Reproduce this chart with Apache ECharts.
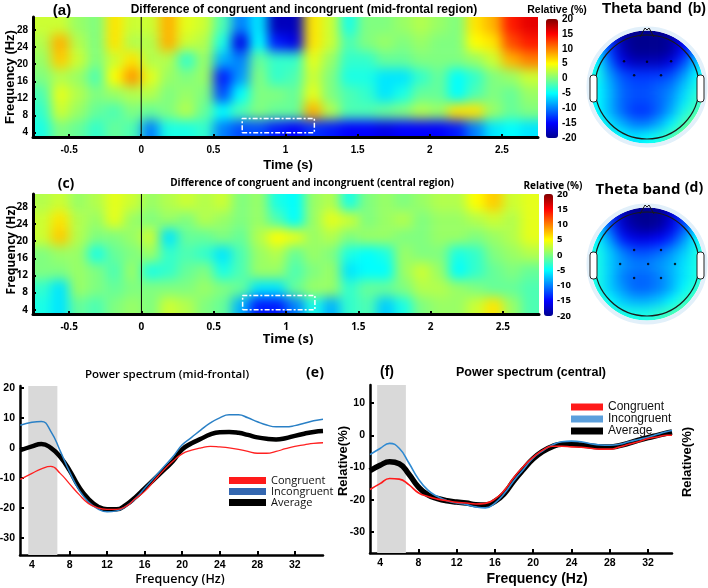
<!DOCTYPE html>
<html>
<head>
<meta charset="utf-8">
<title>Theta power: congruent vs incongruent</title>
<script src="https://cdn.jsdelivr.net/npm/echarts@6/dist/echarts.min.js"></script>
<style>
html, body { margin: 0; padding: 0; background: #fff; }
#main { width: 708px; height: 588px; }
</style>
</head>
<body>
<div id="main"></div>
<script type="text/javascript">
var myChart = echarts.init(document.getElementById('main'));

// ---- time-frequency maps (relative power difference, %) ----
var timeBins = [-0.6875, -0.5625, -0.4375, -0.3125, -0.1875, -0.0625, 0.0625, 0.1875, 0.3125, 0.4375,
    0.5625, 0.6875, 0.8125, 0.9375, 1.0625, 1.1875, 1.3125, 1.4375, 1.5625, 1.6875,
    1.8125, 1.9375, 2.0625, 2.1875, 2.3125, 2.4375, 2.5625, 2.6875];
var freqBins = [29, 25, 21, 17, 13, 9, 5];
var timeTicks = [-0.5, 0, 0.5, 1, 1.5, 2, 2.5];
var freqTicks = [4, 8, 12, 16, 20, 24, 28];

// mid-frontal region, rows from 29 Hz down to 5 Hz
var midFrontal = [
    [3, 3, 1, 0, 6, 3, 3, 8, 4, 3, -2, -10, -6, -18, -18, 6, 3, -4, 0, 0, 1, 2, 1, 0, 6, 8, 14, 16],
    [2, 8, 2, 0, 6, 2, 2, 8, 3, 2, -4, -16, -5, -14, -16, 6, 3, -2, 0, 1, 0, 1, 0, 0, 5, 6, 12, 14],
    [1, 7, 3, 0, 3, 6, 2, 2, -3, 1, -8, -10, -1, -3, -3, 4, 1, -3, -3, -1, -1, 0, 0, 0, 1, 3, 8, 10],
    [0, 2, 1, -2, 5, 9, 4, 1, 0, 1, -14, -9, 0, -3, -2, 3, 0, -4, -4, -6, -6, -3, -1, -5, -3, 0, 1, 3],
    [-2, 4, 2, 0, 1, 2, 2, 0, 1, 0, -12, -5, 0, 0, -1, 4, 0, -2, -3, -6, -4, -1, -1, -5, -2, 0, -1, 1],
    [-3, 3, 1, -1, -2, 0, -1, 0, 2, -1, -5, -2, 0, -1, -1, 8, 2, -2, -2, -1, 0, 2, 1, 6, 6, 1, -1, 0],
    [-4, 0, -1, -3, -1, -2, -10, -4, -4, -3, -10, -12, -12, -14, -15, -13, -14, -15, -15, -16, -15, -15, -15, -14, -10, -6, -5, -6]
];
// central region
var central = [
    [2, 3, 1, 2, 4, 3, 1, 2, 3, 2, 3, 0, 1, -4, -5, 1, 2, -4, 0, 1, 0, 1, 2, 2, 5, 7, 3, 4],
    [3, 6, 2, 1, 4, 1, 0, 1, 0, 2, 1, 0, 1, -2, -5, 1, 4, 3, 0, 1, 2, 0, 1, 1, 2, 3, 2, 4],
    [3, 7, 2, 0, 0, 1, 3, -6, -1, -1, 0, -1, 2, 5, 4, 1, 2, 0, 1, 1, 0, 0, 1, 1, 0, 1, 2, 4],
    [0, 1, 1, -4, -1, 0, 1, -3, -2, -3, -6, -2, 1, 2, -1, 1, 0, -4, -5, -4, 1, 0, 0, -4, -3, 0, 1, 2],
    [0, 0, 1, 0, -2, 1, -4, -3, -1, 0, -4, -2, 1, 1, -2, 0, 1, -6, -5, -5, 1, 3, 1, -5, -3, -1, 0, -1],
    [-3, -6, 1, 0, -1, 0, 0, 0, 0, 1, 0, -1, -6, -6, -1, 1, 1, -3, -1, -1, 0, 2, 2, 1, 0, -1, -1, -2],
    [-4, -6, -1, -2, 0, 1, 0, 3, 2, 0, -1, -8, -14, -14, -10, -4, -8, -3, -2, -7, -4, 0, 1, 1, 3, 6, 1, -2]
];
// theta-window outline (s, Hz)
var boxTime = [0.7, 1.2];
var boxFreq = [4, 7.3];

// ---- theta-band scalp maps, 9x9 cells, head coords -1..1 ----
var topoPos = [-0.889, -0.667, -0.444, -0.222, 0, 0.222, 0.444, 0.667, 0.889];
var topoRows = [0.889, 0.667, 0.444, 0.222, 0, -0.222, -0.444, -0.667, -0.889];
var topoFrontal = [
    [-7, -13, -19, -20, -20, -20, -19, -15, -9],
    [-6, -13, -18, -20, -20, -20, -19, -15, -9],
    [-5, -11, -16, -18, -18, -18, -16, -12, -7],
    [-4, -9, -12, -13, -13, -13, -12, -9, -5],
    [-5, -8, -11, -12, -12, -11, -10, -7, -4],
    [-5, -8, -11, -12, -12, -11, -9, -6, -3],
    [-5, -8, -11, -13, -13, -11, -8, -4, -2],
    [-4, -6, -8, -10, -10, -8, -5, -2, 0],
    [-3, -4, -5, -6, -5, -4, -2, 0, 1]
];
var topoCentral = [
    [-7, -13, -18, -20, -20, -20, -17, -13, -8],
    [-6, -12, -17, -19, -20, -19, -16, -12, -7],
    [-5, -9, -14, -16, -16, -15, -13, -9, -5],
    [-4, -7, -10, -12, -12, -11, -9, -7, -4],
    [-4, -7, -9, -10, -10, -9, -8, -6, -4],
    [-4, -7, -10, -11, -11, -10, -8, -6, -4],
    [-4, -7, -9, -11, -11, -10, -8, -5, -3],
    [-3, -5, -7, -8, -8, -7, -5, -3, -2],
    [-2, -3, -4, -4, -4, -3, -2, -1, 0]
];
var electrodesFrontal = [[-0.41, 0.46], [0, 0.45], [0.43, 0.46], [-0.23, 0.21], [0.25, 0.21]];
var electrodesCentral = [[-0.23, 0.25], [0.25, 0.25], [-0.48, 0], [0.02, 0], [0.5, 0], [-0.23, -0.25], [0.25, -0.25]];

// ---- power spectra (relative %, by frequency) ----
var eFreq = [2.75, 4, 5, 6, 7, 8, 9, 10, 11, 12, 13, 14, 15, 16, 17, 18, 19, 20, 21, 22, 23, 24, 25, 26, 27, 28, 29, 30, 31, 32, 33, 34, 35];
var eCongruent = [-10.5, -8.5, -7, -6.2, -8.5, -12, -15.5, -18.5, -20, -20.5, -20.5, -19.5, -17, -14.5, -11, -7.5, -4.5, -2, -0.8, 0, 0.5, 0.3, 0, -0.5, -1.2, -1.8, -1.8, -1.2, -0.3, 0.5, 1, 1.5, 1.7];
var eIncongruent = [7.5, 8.5, 8.8, 5.5, -1, -8, -14, -18, -20.3, -21.3, -21, -19.5, -17, -13.5, -10, -6.5, -3, 1, 3.5, 6, 8.3, 10, 11, 11, 10, 8.7, 7.6, 7, 7, 7.4, 8.2, 9, 9.5];
var eAverage = [-0.8, 0.5, 1.3, 0, -3, -7.5, -13, -17, -19.5, -20.5, -20.5, -19, -16.5, -13.5, -10.5, -7.5, -4.5, -0.5, 1.5, 3, 4.5, 5.2, 5.3, 5, 4.3, 3.5, 3, 2.8, 3.2, 4, 4.7, 5.3, 5.6];
var fFreq = [2.95, 4, 5, 6, 7, 8, 9, 10, 11, 12, 13, 14, 15, 16, 17, 18, 19, 20, 21, 22, 23, 24, 25, 26, 27, 28, 29, 30, 31, 32, 33, 34, 34.5];
var fCongruent = [-16.8, -15, -13.4, -13.6, -15.3, -17.8, -19, -19.8, -20.3, -20.8, -21, -21.3, -21.1, -19.8, -17, -13, -9.6, -6.8, -4.6, -3.4, -3.4, -3.6, -3.7, -4, -4.3, -4.3, -3.6, -2.8, -2, -1, -0.5, 0, 0];
var fIncongruent = [-6, -4.1, -2.5, -4, -8.5, -13.5, -17, -19, -20.3, -21, -21.5, -22.2, -22.5, -21, -18, -14, -10.5, -7, -4.8, -3, -2, -1.8, -2, -2.6, -3, -3.1, -2.8, -2, -1.3, -0.6, 0.3, 1.2, 1.5];
var fAverage = [-11, -9.3, -8.2, -8.8, -12, -16, -18.5, -19.6, -20.3, -20.7, -21, -21.5, -21.6, -20.5, -18, -14, -10.5, -7.3, -5, -3.5, -2.8, -2.8, -3, -3.3, -3.6, -3.6, -3.2, -2.4, -1.5, -0.7, 0, 0.7, 1];
var thetaShadeE = [3.6, 6.7];
var thetaShadeF = [3.7, 6.7];
var specYTicks = [-30, -20, -10, 0, 10, 20];
var specXTicks = [4, 8, 12, 16, 20, 24, 28, 32];

var jet = ['#00008f', '#0000ff', '#0080ff', '#00ffff', '#80ff80', '#ffff00', '#ff8000', '#ff0000', '#800000'];
var ARIAL = '"Liberation Sans", Arial, sans-serif';
var SEGOE = '"Open Sans", "Noto Sans", sans-serif';

function toCells(rows, xs, ys) {
    var out = [];
    rows.forEach(function (r, j) {
        r.forEach(function (v, i) { out.push([xs[i], ys[j], v]); });
    });
    return out;
}
function zip(xs, ys) {
    return xs.map(function (x, i) { return [x, ys[i]]; });
}
// one coloured cell; cells on the plot border are stretched outwards so the
// softened layer keeps full colour up to the (clipped) plot edge
function cellItem(dt, df) {
    return function (params, api) {
        var cs = params.coordSys;
        var p0 = api.coord([api.value(0) - dt / 2, api.value(1) + df / 2]);
        var p1 = api.coord([api.value(0) + dt / 2, api.value(1) - df / 2]);
        var x0 = p0[0], y0 = p0[1], x1 = p1[0] + 0.6, y1 = p1[1] + 0.6;
        if (x0 <= cs.x + 1) x0 -= 14;
        if (y0 <= cs.y + 1) y0 -= 14;
        if (x1 >= cs.x + cs.width - 1) x1 += 14;
        if (y1 >= cs.y + cs.height - 1) y1 += 14;
        return {
            type: 'rect',
            shape: { x: x0, y: y0, width: x1 - x0, height: y1 - y0 },
            style: { fill: api.visual('color') }
        };
    };
}
function bandItem(params, api) {
    var cs = params.coordSys;
    var a = api.coord([api.value(0), 0]);
    var b = api.coord([api.value(1), 0]);
    return {
        type: 'rect',
        shape: { x: a[0], y: cs.y, width: b[0] - a[0], height: cs.height },
        style: { fill: '#d9d9d9' }
    };
}
function boxPath(t, f) {
    return [[t[0], f[0]], [t[1], f[0]], [t[1], f[1]], [t[0], f[1]], [t[0], f[0]]];
}

// axis helpers
function tfX(grid, font) {
    return {
        gridIndex: grid, type: 'value', min: -0.75, max: 2.75,
        axisLine: { onZero: false, lineStyle: { color: '#000', width: 3 } },
        axisTick: { inside: true, length: 3, lineStyle: { width: 2, color: '#000' }, customValues: timeTicks },
        axisLabel: { customValues: timeTicks, color: '#000', fontFamily: font, fontWeight: 'bold', fontSize: 10, margin: 8 },
        splitLine: { show: false }
    };
}
function tfY(grid, font) {
    return {
        gridIndex: grid, type: 'value', min: 3, max: 31,
        axisLine: { onZero: false, lineStyle: { color: '#000', width: 3 } },
        axisTick: { inside: true, length: 3, lineStyle: { width: 2, color: '#000' }, customValues: freqTicks },
        axisLabel: { customValues: freqTicks, color: '#000', fontFamily: font, fontWeight: 'bold', fontSize: 10, margin: 5 },
        splitLine: { show: false }
    };
}
function hidden(grid, lo, hi) {
    return { gridIndex: grid, type: 'value', min: lo, max: hi, show: false, splitLine: { show: false } };
}
function cbarY(grid, font, size) {
    return {
        gridIndex: grid, type: 'value', min: -20, max: 20, interval: 5, position: 'right',
        axisLine: { show: false }, axisTick: { show: false }, splitLine: { show: false },
        axisLabel: { color: '#000', fontFamily: font, fontWeight: 'bold', fontSize: size, margin: 4 }
    };
}
function specX(grid, lo, hi) {
    return {
        gridIndex: grid, type: 'value', min: lo, max: hi,
        axisLine: { onZero: false, lineStyle: { color: '#000', width: 2.5 } },
        axisTick: { inside: true, length: 4, lineStyle: { width: 2, color: '#000' }, customValues: specXTicks },
        axisLabel: { customValues: specXTicks, color: '#000', fontFamily: ARIAL, fontWeight: 'bold', fontSize: 10.5, margin: 5 },
        splitLine: { show: false }
    };
}
function specY(grid, lo, hi) {
    return {
        gridIndex: grid, type: 'value', min: lo, max: hi,
        axisLine: { onZero: false, lineStyle: { color: '#000', width: 2.5 } },
        axisTick: { inside: true, length: 4, lineStyle: { width: 2, color: '#000' }, customValues: specYTicks },
        axisLabel: { customValues: specYTicks, color: '#000', fontFamily: ARIAL, fontWeight: 'bold', fontSize: 10.5, margin: 5 },
        splitLine: { show: false }
    };
}

// free text
function txt(x, y, s, font, rot) {
    var el = {
        type: 'text', x: x, y: y, z: 100, silent: true,
        style: { text: s, x: 0, y: 0, font: font, fill: '#000',
            textAlign: 'center', textVerticalAlign: 'middle', align: 'center', verticalAlign: 'middle' }
    };
    if (rot) el.rotation = rot;
    return el;
}
// head outline around a scalp map
function head(cx, cy) {
    return [
        { type: 'circle', z: 31, silent: true, shape: { cx: cx, cy: cy, r: 58.5 }, style: { fill: 'none', stroke: '#e2f0fa', lineWidth: 4 } },
        { type: 'circle', z: 32, silent: true, shape: { cx: cx, cy: cy, r: 52 }, style: { fill: 'none', stroke: '#1a1a1a', lineWidth: 1.2 } },
        { type: 'rect', z: 32, silent: true, shape: { x: cx - 57, y: cy - 12, width: 7, height: 27, r: 3 }, style: { fill: '#fff', stroke: '#222', lineWidth: 1 } },
        { type: 'rect', z: 32, silent: true, shape: { x: cx + 50, y: cy - 12, width: 7, height: 27, r: 3 }, style: { fill: '#fff', stroke: '#222', lineWidth: 1 } },
        { type: 'polyline', z: 32, silent: true, shape: { points: [[cx - 7, cy - 50], [cx - 2, cy - 59], [cx, cy - 57], [cx + 2, cy - 59], [cx + 7, cy - 50]] }, style: { fill: 'none', stroke: '#1a1a1a', lineWidth: 1 } }
    ];
}

var graphics = []
    .concat(head(647, 87))
    .concat(head(647, 264))
    .concat([
        txt(62, 11, '(a)', 'bold 15px ' + ARIAL),
        txt(304, 10, 'Difference of congruent and incongruent (mid-frontal region)', 'bold 12px ' + ARIAL),
        txt(557, 10, 'Relative (%)', 'bold 10.5px ' + ARIAL),
        txt(642, 9, 'Theta band', 'bold 15px ' + ARIAL),
        txt(697, 9, '(b)', 'bold 14px ' + ARIAL),
        txt(288, 165, 'Time (s)', 'bold 13px ' + ARIAL),
        txt(10, 77, 'Frequency (Hz)', 'bold 13px ' + ARIAL, Math.PI / 2),

        txt(66, 184, '(c)', 'bold 14px ' + SEGOE),
        txt(312, 183, 'Difference of congruent and incongruent (central region)', 'bold 10px ' + SEGOE),
        txt(553, 186, 'Relative (%)', 'bold 10px ' + SEGOE),
        txt(638, 190, 'Theta band', 'bold 15px ' + SEGOE),
        txt(694, 188, '(d)', 'bold 14px ' + SEGOE),
        txt(288, 339, 'Time (s)', 'bold 13px ' + SEGOE),
        txt(12, 250, 'Frequency (Hz)', 'bold 12px ' + SEGOE, Math.PI / 2),

        txt(167, 375, 'Power spectrum (mid-frontal)', '600 11.5px ' + SEGOE),
        txt(315, 373, '(e)', 'bold 14px ' + SEGOE),
        txt(180, 579, 'Frequency (Hz)', '600 12.5px ' + SEGOE),
        txt(343, 461, 'Relative(%)', 'bold 13px ' + ARIAL, Math.PI / 2),

        txt(387, 372, '(f)', 'bold 14px ' + ARIAL),
        txt(531, 373, 'Power spectrum (central)', 'bold 12.5px ' + ARIAL),
        txt(537, 579, 'Frequency (Hz)', 'bold 14px ' + ARIAL),
        txt(687, 462, 'Relative(%)', 'bold 13px ' + ARIAL, Math.PI / 2)
    ]);

var option = {
    animation: false,
    backgroundColor: 'transparent',
    grid: [
        { left: 33, top: 17, width: 505, height: 120, outerBoundsMode: 'none' },   // (a)
        { left: 546, top: 19, width: 12, height: 119, outerBoundsMode: 'none' },   // (a) colour bar
        { left: 591, top: 31, width: 112, height: 112, outerBoundsMode: 'none' },  // (b)
        { left: 33, top: 194, width: 506, height: 120, outerBoundsMode: 'none' },  // (c)
        { left: 544, top: 194, width: 9, height: 122, outerBoundsMode: 'none' },   // (c) colour bar
        { left: 591, top: 208, width: 112, height: 112, outerBoundsMode: 'none' }, // (d)
        { left: 20, top: 386, width: 303, height: 169, outerBoundsMode: 'none' },  // (e)
        { left: 370, top: 385, width: 302, height: 168, outerBoundsMode: 'none' }  // (f)
    ],
    xAxis: [
        tfX(0, ARIAL), hidden(1, 0, 1), hidden(2, -1, 1),
        tfX(3, SEGOE), hidden(4, 0, 1), hidden(5, -1, 1),
        specX(6, 2.72, 35), specX(7, 2.95, 34.5)
    ],
    yAxis: [
        tfY(0, ARIAL), cbarY(1, ARIAL, 10), hidden(2, -1, 1),
        tfY(3, SEGOE), cbarY(4, SEGOE, 9.5), hidden(5, -1, 1),
        specY(6, -35.7, 20.6), specY(7, -36.5, 15.6)
    ],
    visualMap: [{
        type: 'continuous', min: -20, max: 20, dimension: 2, seriesIndex: [0, 1],
        inRange: { color: jet }, calculable: false, hoverLink: false,
        left: 546, top: 19, itemWidth: 12, itemHeight: 119, padding: 0, text: null
    }, {
        type: 'continuous', min: -20, max: 20, dimension: 2, seriesIndex: [2, 3],
        inRange: { color: jet }, calculable: false, hoverLink: false,
        left: 544, top: 194, itemWidth: 9, itemHeight: 122, padding: 0, text: null
    }],
    legend: [{
        orient: 'vertical', left: 224, top: 470, itemWidth: 37, itemHeight: 7, itemGap: 0,
        icon: 'rect', selectedMode: false,
        textStyle: { fontFamily: SEGOE, fontSize: 11, lineHeight: 10.5, color: '#111' },
        data: [
            { name: 'Congruent', itemStyle: { color: '#ff1a1a' } },
            { name: 'Incongruent', itemStyle: { color: '#3467b0' } },
            { name: 'Average', itemStyle: { color: '#000' } }
        ]
    }, {
        orient: 'vertical', left: 566, top: 396, itemWidth: 32, itemHeight: 7, itemGap: 0,
        icon: 'rect', selectedMode: false,
        textStyle: { fontFamily: ARIAL, fontSize: 12, lineHeight: 10.5, color: '#111' },
        data: [
            { name: 'Congruent', itemStyle: { color: '#ff1a1a' } },
            { name: 'Incongruent', itemStyle: { color: '#5b9fdc' } },
            { name: 'Average', itemStyle: { color: '#000' } }
        ]
    }],
    graphic: graphics,
    series: [
        // colour maps live on their own canvas layer (zlevel -1), softened below
        { type: 'custom', name: 'tfA', xAxisIndex: 0, yAxisIndex: 0, renderItem: cellItem(0.125, 4), clip: false, silent: true, zlevel: -1,
          encode: { x: 0, y: 1 }, data: toCells(midFrontal, timeBins, freqBins) },
        { type: 'custom', name: 'topoB', xAxisIndex: 2, yAxisIndex: 2, renderItem: cellItem(2 / 9, 2 / 9), clip: false, silent: true, zlevel: -1,
          encode: { x: 0, y: 1 }, data: toCells(topoFrontal, topoPos, topoRows) },
        { type: 'custom', name: 'tfC', xAxisIndex: 3, yAxisIndex: 3, renderItem: cellItem(0.125, 4), clip: false, silent: true, zlevel: -1,
          encode: { x: 0, y: 1 }, data: toCells(central, timeBins, freqBins) },
        { type: 'custom', name: 'topoD', xAxisIndex: 5, yAxisIndex: 5, renderItem: cellItem(2 / 9, 2 / 9), clip: false, silent: true, zlevel: -1,
          encode: { x: 0, y: 1 }, data: toCells(topoCentral, topoPos, topoRows) },

        { type: 'line', xAxisIndex: 0, yAxisIndex: 0, data: [[0, 3], [0, 31]], symbol: 'none', silent: true, z: 4,
          lineStyle: { color: '#000', width: 1 } },
        { type: 'line', xAxisIndex: 0, yAxisIndex: 0, data: boxPath(boxTime, boxFreq), symbol: 'none', silent: true, z: 4,
          lineStyle: { color: '#fff', width: 1.5, type: [5, 2, 2, 2] } },
        { type: 'line', xAxisIndex: 3, yAxisIndex: 3, data: [[0, 3], [0, 31]], symbol: 'none', silent: true, z: 4,
          lineStyle: { color: '#000', width: 1 } },
        { type: 'line', xAxisIndex: 3, yAxisIndex: 3, data: boxPath(boxTime, boxFreq), symbol: 'none', silent: true, z: 4,
          lineStyle: { color: '#fff', width: 1.5, type: [5, 2, 2, 2] } },
        { type: 'scatter', xAxisIndex: 2, yAxisIndex: 2, data: electrodesFrontal, symbolSize: 2.5, silent: true, z: 40,
          itemStyle: { color: '#000' } },
        { type: 'scatter', xAxisIndex: 5, yAxisIndex: 5, data: electrodesCentral, symbolSize: 2.5, silent: true, z: 40,
          itemStyle: { color: '#000' } },

        { type: 'custom', xAxisIndex: 6, yAxisIndex: 6, renderItem: bandItem, silent: true, z: 1,
          encode: { x: [0, 1] }, data: [thetaShadeE] },
        { type: 'custom', xAxisIndex: 7, yAxisIndex: 7, renderItem: bandItem, silent: true, z: 1,
          encode: { x: [0, 1] }, data: [thetaShadeF] },

        { type: 'line', name: 'Average', xAxisIndex: 6, yAxisIndex: 6, data: zip(eFreq, eAverage), smooth: true,
          symbol: 'none', silent: true, lineStyle: { color: '#000', width: 4.5 }, itemStyle: { color: '#000' } },
        { type: 'line', name: 'Incongruent', xAxisIndex: 6, yAxisIndex: 6, data: zip(eFreq, eIncongruent), smooth: true,
          symbol: 'none', silent: true, lineStyle: { color: '#2a80c6', width: 1.5 }, itemStyle: { color: '#2a80c6' } },
        { type: 'line', name: 'Congruent', xAxisIndex: 6, yAxisIndex: 6, data: zip(eFreq, eCongruent), smooth: true,
          symbol: 'none', silent: true, lineStyle: { color: '#ff2020', width: 1.3 }, itemStyle: { color: '#ff2020' } },

        { type: 'line', name: 'Average', xAxisIndex: 7, yAxisIndex: 7, data: zip(fFreq, fAverage), smooth: true,
          symbol: 'none', silent: true, lineStyle: { color: '#000', width: 5.5 }, itemStyle: { color: '#000' } },
        { type: 'line', name: 'Incongruent', xAxisIndex: 7, yAxisIndex: 7, data: zip(fFreq, fIncongruent), smooth: true,
          symbol: 'none', silent: true, lineStyle: { color: '#2f8ad2', width: 1.6 }, itemStyle: { color: '#2f8ad2' } },
        { type: 'line', name: 'Congruent', xAxisIndex: 7, yAxisIndex: 7, data: zip(fFreq, fCongruent), smooth: true,
          symbol: 'none', silent: true, lineStyle: { color: '#ff1a1a', width: 1.6 }, itemStyle: { color: '#ff1a1a' } }
    ]
};

myChart.setOption(option);

// soften the colour-map layer and cut it back to the plot rectangles / scalp discs
function shapeColourLayer() {
    var cv = document.querySelector('#main canvas[data-zr-dom-id="zr_-1"]');
    if (!cv) return;
    var d = '';
    [0, 3].forEach(function (g) {
        var a = myChart.convertToPixel({ gridIndex: g }, [-0.75, 31]);
        var b = myChart.convertToPixel({ gridIndex: g }, [2.75, 3]);
        d += 'M' + a[0] + ' ' + a[1] + ' H' + b[0] + ' V' + b[1] + ' H' + a[0] + ' Z ';
    });
    [2, 5].forEach(function (g) {
        var c = myChart.convertToPixel({ gridIndex: g }, [0, 0]);
        var e = myChart.convertToPixel({ gridIndex: g }, [1, 0]);
        var r = e[0] - c[0] + 0.5;
        d += 'M' + c[0] + ' ' + (c[1] - r) + ' A' + r + ' ' + r + ' 0 1 0 ' + c[0] + ' ' + (c[1] + r) +
             ' A' + r + ' ' + r + ' 0 1 0 ' + c[0] + ' ' + (c[1] - r) + ' Z ';
    });
    cv.style.filter = 'blur(6px)';
    cv.style.clipPath = 'path("' + d + '")';
    cv.style.webkitClipPath = 'path("' + d + '")';
}
myChart.getZr().refreshImmediately();
shapeColourLayer();
myChart.on('finished', shapeColourLayer);
</script>
</body>
</html>
